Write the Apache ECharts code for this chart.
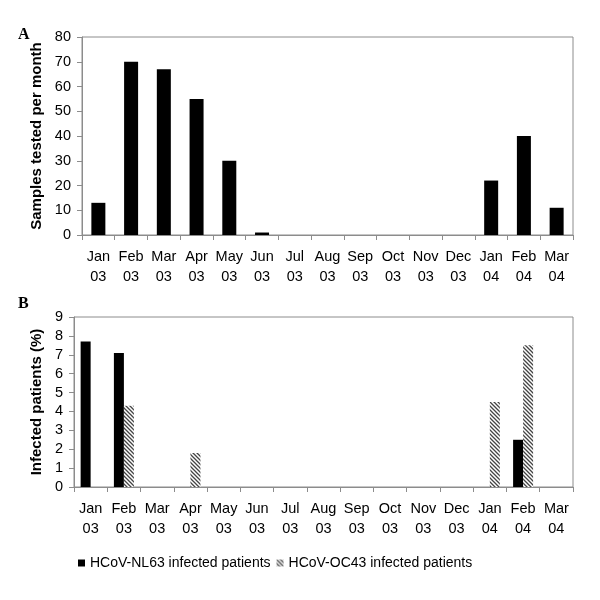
<!DOCTYPE html>
<html>
<head>
<meta charset="utf-8">
<script src="https://cdn.jsdelivr.net/npm/echarts@6/dist/echarts.min.js"></script>
<style>html,body{margin:0;padding:0;background:#fff}#c{width:600px;height:600px}</style>
</head>
<body>
<div id="c"></div>
<script>
const months = ['Jan\n03','Feb\n03','Mar\n03','Apr\n03','May\n03','Jun\n03','Jul\n03','Aug\n03','Sep\n03','Oct\n03','Nov\n03','Dec\n03','Jan\n04','Feb\n04','Mar\n04'];
const samplesTested = [13, 70, 67, 55, 30, 1, 0, 0, 0, 0, 0, 0, 22, 40, 11];
const nl63Pct = [7.7, 7.1, 0, 0, 0, 0, 0, 0, 0, 0, 0, 0, 0, 2.5, 0];
const oc43Pct = [0, 4.3, 0, 1.8, 0, 0, 0, 0, 0, 0, 0, 0, 4.5, 7.5, 0];
const nameNL63 = 'HCoV-NL63 infected patients';
const nameOC43 = 'HCoV-OC43 infected patients';

// hatch pattern
const pc = document.createElement('canvas');
pc.width = 4; pc.height = 4;
const g = pc.getContext('2d');
g.fillStyle = '#ffffff'; g.fillRect(0,0,4,4);
g.strokeStyle = '#444444'; g.lineWidth = 1.3;
g.beginPath();
g.moveTo(-1,-1); g.lineTo(5,5);
g.moveTo(-1,3); g.lineTo(1,5);
g.moveTo(3,-1); g.lineTo(5,1);
g.stroke();
const hatch = {image: pc, repeat: 'repeat'};

const font = 'Liberation Sans, Arial, sans-serif';
const axisGray = '#8c8c8c';

function xAxis(gi){
  return {
    type: 'category', gridIndex: gi, data: months, boundaryGap: true,
    axisLine: {show: true, lineStyle: {color: axisGray}},
    axisTick: {show: true, alignWithLabel: false, length: 5, lineStyle: {color: axisGray}},
    axisLabel: {color: '#000', fontSize: 14.5, fontFamily: font, lineHeight: 20, margin: 12, interval: 0},
    splitLine: {show: false}
  };
}
function yAxis(gi, max, name, gap){
  return {
    type: 'value', gridIndex: gi, min: 0, max: max, interval: max === 80 ? 10 : 1,
    name: name, nameLocation: 'middle', nameGap: gap, nameRotate: 90,
    nameTextStyle: {color: '#000', fontSize: 15, fontWeight: 'bold', fontFamily: font},
    axisLine: {show: true, lineStyle: {color: axisGray}},
    axisTick: {show: true, length: 5, lineStyle: {color: axisGray}},
    axisLabel: {color: '#000', fontSize: 14.5, fontFamily: font, margin: 11},
    splitLine: {show: false}
  };
}

const chart = echarts.init(document.getElementById('c'), null, {renderer: 'canvas'});
chart.setOption({
  animation: false,
  backgroundColor: '#fff',
  grid: [
    {left: 82, right: 27, top: 37, height: 198, show: true, borderColor: axisGray, borderWidth: 1},
    {left: 74, right: 27, top: 317, height: 170, show: true, borderColor: axisGray, borderWidth: 1}
  ],
  xAxis: [xAxis(0), xAxis(1)],
  yAxis: [yAxis(0, 80, 'Samples tested per month', 35), yAxis(1, 9, 'Infected patients (%)', 27)],
  legend: {
    left: 73, top: 551, itemWidth: 7, itemHeight: 7, itemGap: 6, icon: 'rect',
    textStyle: {color: '#000', fontSize: 14, fontFamily: font},
    data: [nameNL63, nameOC43]
  },
  graphic: [
    {type: 'text', left: 18, top: 27, style: {text: 'A', font: 'bold 16px "Liberation Serif", serif', fill: '#000'}},
    {type: 'text', left: 18, top: 296, style: {text: 'B', font: 'bold 16px "Liberation Serif", serif', fill: '#000'}}
  ],
  series: [
    {type: 'bar', name: 'Samples', xAxisIndex: 0, yAxisIndex: 0, data: samplesTested, barWidth: 14, itemStyle: {color: '#000'}},
    {type: 'bar', name: nameNL63, xAxisIndex: 1, yAxisIndex: 1, data: nl63Pct, barWidth: 10, barGap: '0%', itemStyle: {color: '#000'}},
    {type: 'bar', name: nameOC43, xAxisIndex: 1, yAxisIndex: 1, data: oc43Pct, barWidth: 10, barGap: '0%', itemStyle: {color: hatch}}
  ]
});
</script>
</body>
</html>
